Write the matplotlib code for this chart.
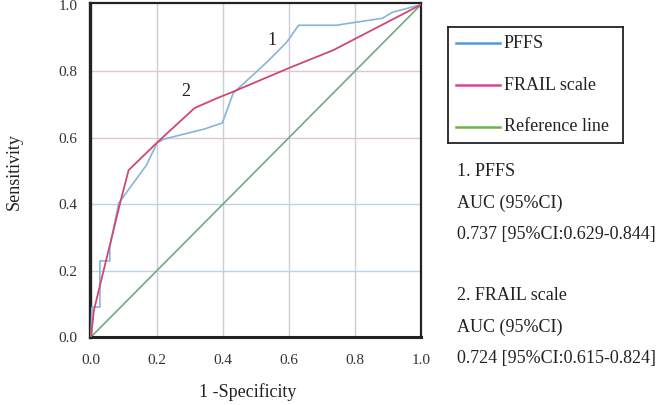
import matplotlib
matplotlib.use("Agg")
import matplotlib.pyplot as plt

plt.rcParams['font.family'] = ['Liberation Serif', 'DejaVu Serif']

# ROC data
pffs_fpr = [0.0, 0.003, 0.027, 0.027, 0.057, 0.057, 0.084, 0.168, 0.200, 0.219,
            0.344, 0.398, 0.431, 0.533, 0.593, 0.629, 0.743, 0.802, 0.883, 0.913, 1.0]
pffs_tpr = [0.0, 0.090, 0.090, 0.229, 0.229, 0.271, 0.403, 0.517, 0.583, 0.595,
            0.626, 0.644, 0.734, 0.827, 0.887, 0.938, 0.938, 0.947, 0.959, 0.977, 1.0]

frail_fpr = [0.0, 0.009, 0.090, 0.114, 0.198, 0.314, 0.383, 0.428, 0.599, 0.734, 1.0]
frail_tpr = [0.0, 0.081, 0.410, 0.502, 0.583, 0.689, 0.719, 0.737, 0.809, 0.863, 1.0]

ref_x = [0.0, 1.0]
ref_y = [0.0, 1.0]

ticks = [0.0, 0.2, 0.4, 0.6, 0.8, 1.0]
tick_labels = ["0.0", "0.2", "0.4", "0.6", "0.8", "1.0"]

series_names = ["PFFS", "FRAIL scale", "Reference line"]
line_colors = ["#86b4e0", "#d2476f", "#74a880"]
legend_colors = ["#4f9bd9", "#d6449a", "#6cb545"]

notes = ["1. PFFS", "AUC (95%CI)", "0.737 [95%CI:0.629-0.844]",
         "2. FRAIL scale", "AUC (95%CI)", "0.724 [95%CI:0.615-0.824]"]
note_y_px = [172, 203, 235, 295, 327, 358]

W, H = 656, 405
fig = plt.figure(figsize=(W / 100, H / 100), dpi=100)
ax = fig.add_axes([90 / W, 1 - 337 / H, 331 / W, 334 / H])

# gridlines
for v in ticks[1:-1]:
    ax.axvline(v, color="#c9ced9", lw=1.0, zorder=1)
for v, c in zip(ticks[1:-1], ["#bcd3e6", "#bcd3e6", "#e2c6ce", "#e2c6ce"]):
    ax.axhline(v, color=c, lw=1.0, zorder=1)

ax.plot(ref_x, ref_y, color=line_colors[2], lw=1.2, zorder=2)
ax.plot(pffs_fpr, pffs_tpr, color=line_colors[0], lw=1.2, zorder=3)
ax.plot(frail_fpr, frail_tpr, color=line_colors[1], lw=1.3, zorder=4)

ax.text(0.548, 0.893, "1", fontsize=13, ha="center", va="center", color="#222222")
ax.text(0.287, 0.740, "2", fontsize=13, ha="center", va="center", color="#222222")

ax.set_xlim(-0.003, 0.988)
ax.set_ylim(0.0, 1.005)
ax.set_xticks(ticks)
ax.set_xticklabels(tick_labels)
ax.set_yticks(ticks)
ax.set_yticklabels(tick_labels)
ax.tick_params(length=0, labelsize=11, colors="#333333")
ax.tick_params(axis="x", pad=12)
ax.tick_params(axis="y", pad=9)
for s in ax.spines.values():
    s.set_color("#222222")
    s.set_linewidth(1.6)
ax.spines['left'].set_linewidth(2.4)
ax.spines['bottom'].set_linewidth(2.2)

fig.text(248 / W, 1 - 392 / H, "1 -Specificity", fontsize=13, color="#222222",
         ha="center", va="center")
fig.text(14 / W, 1 - 172 / H, "Sensitivity", fontsize=13, color="#222222",
         ha="center", va="center", rotation=90)

# legend box
lax = fig.add_axes([448 / W, 1 - 143 / H, 175 / W, 116 / H])
lax.set_xlim(0, 1)
lax.set_ylim(0, 1)
lax.set_xticks([])
lax.set_yticks([])
for s in lax.spines.values():
    s.set_color("#222222")
    s.set_linewidth(1.3)
for name, col, yy in zip(series_names, legend_colors, [0.862, 0.5, 0.138]):
    lax.plot([0.046, 0.297], [yy, yy], color=col, lw=1.8)
    lax.text(0.32, yy, name, fontsize=13, va="center", ha="left", color="#222222")

for txt, ypx in zip(notes, note_y_px):
    fig.text(457 / W, 1 - ypx / H, txt, fontsize=13, va="center", ha="left", color="#222222")

fig.savefig("out.png", dpi=100)
